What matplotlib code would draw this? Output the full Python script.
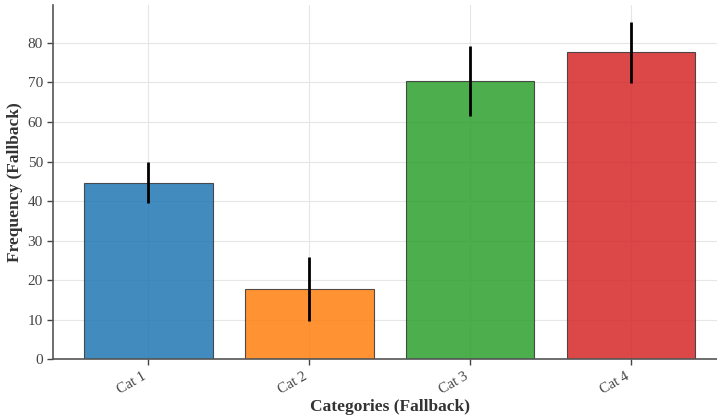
import matplotlib
matplotlib.use("Agg")
import matplotlib.pyplot as plt

categories = ["Cat 1", "Cat 2", "Cat 3", "Cat 4"]
values = [44.6, 17.8, 70.3, 77.6]
errors = [5.2, 8.1, 8.9, 7.8]
colors = ["#1f77b4", "#ff7f0e", "#2ca02c", "#d62728"]

plt.rcParams['font.family'] = ['Liberation Serif', 'DejaVu Serif']

fig = plt.figure(figsize=(7.17, 4.17), dpi=100)
ax = fig.add_axes([53.3/717, 57.7/417, (726.0-53.3)/717, (412.3-57.7)/417])

x = list(range(len(categories)))
ax.bar(x, values, width=0.8, color=colors, alpha=0.85, edgecolor="#333333",
       linewidth=0.8, yerr=errors, error_kw=dict(ecolor="black", elinewidth=2, capsize=0),
       zorder=2)
ax.grid(True, color="#e6e6e6", linewidth=0.8, zorder=0)
ax.set_axisbelow(True)

ax.set_xticks(x)
ax.set_xticklabels(categories, rotation=30, ha="right", fontsize=10.5, color="#333333")
ax.tick_params(axis="y", labelsize=11, labelcolor="#333333")
ax.tick_params(colors="#444444", length=4, width=1)
ax.set_yticks(range(0, 90, 10))

for s in ["top", "right"]:
    ax.spines[s].set_visible(False)
for s in ["left", "bottom"]:
    ax.spines[s].set_color("#555555")
    ax.spines[s].set_linewidth(1.2)

ax.set_xlabel("Categories (Fallback)", fontsize=12.5, fontweight="bold", color="#333333", labelpad=2)
ax.set_ylabel("Frequency (Fallback)", fontsize=12.5, fontweight="bold", color="#333333", labelpad=3)

fig.savefig("out.png", dpi=100)
